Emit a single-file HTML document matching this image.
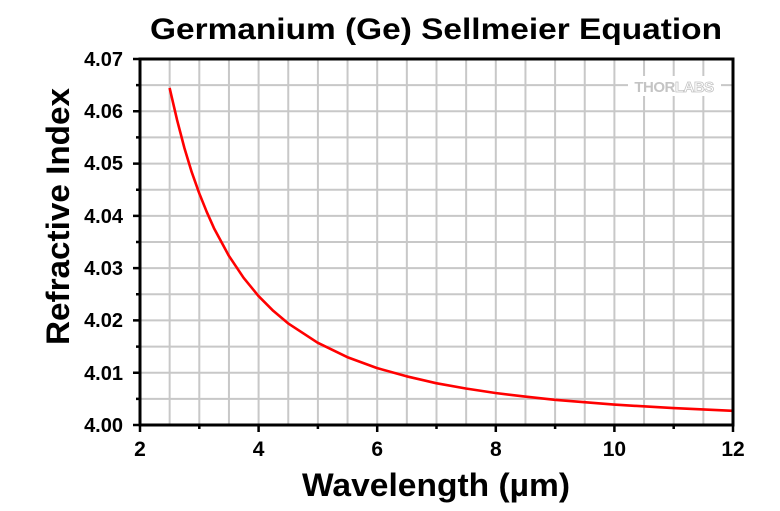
<!DOCTYPE html>
<html><head><meta charset="utf-8"><style>body{margin:0;background:#fff}svg{display:block}</style></head><body>
<svg width="780" height="511" xmlns="http://www.w3.org/2000/svg" font-family="Liberation Sans, Arial, sans-serif" font-weight="bold">
<rect width="780" height="511" fill="#fff"/>
<g stroke="#c8c8c8" stroke-width="2">
<path d="M169.65 59V425M199.3 59V425M228.95 59V425M258.6 59V425M288.25 59V425M317.9 59V425M347.55 59V425M377.2 59V425M406.85 59V425M436.5 59V425M466.15 59V425M495.8 59V425M525.45 59V425M555.1 59V425M584.75 59V425M614.4 59V425M644.05 59V425M673.7 59V425M703.35 59V425"/>
<path d="M140 85.14H733M140 111.29H733M140 137.43H733M140 163.57H733M140 189.71H733M140 215.86H733M140 242H733M140 268.14H733M140 294.29H733M140 320.43H733M140 346.57H733M140 372.71H733M140 398.86H733"/>
</g>
<rect x="628" y="76" width="93" height="20" fill="#fff"/>
<text x="674" y="92" font-size="15" fill="#c4c4c4" text-anchor="middle" letter-spacing="-0.5">THOR<tspan fill="#fff" stroke="#c4c4c4" stroke-width="0.8">LABS</tspan></text>
<polyline fill="none" stroke="#f00" stroke-width="2.6" stroke-linejoin="round" points="169.6,87.9 177.1,120.1 184.4,148 191.7,172.1 199.2,193.2 206.7,211.8 214,228.2 228.8,255.7 243.6,277.8 258.4,295.9 273.2,310.8 288,323.3 317.6,342.7 347.2,357.1 376.8,368 406.5,376.3 436.1,383.2 465.8,388.5 495.4,393 525,396.6 554.7,399.8 614,404.6 673.3,408.1 732.6,410.8"/>
<rect x="140" y="59" width="593" height="366" fill="none" stroke="#000" stroke-width="3"/>
<g stroke="#000" stroke-width="2.5">
<path d="M140 425v7M258.6 425v7M377.2 425v7M495.8 425v7M614.4 425v7M733 425v7"/>
<path d="M199.3 425v4M317.9 425v4M436.5 425v4M555.1 425v4M673.7 425v4"/>
<path d="M140 59h-7M140 111.29h-7M140 163.57h-7M140 215.86h-7M140 268.14h-7M140 320.43h-7M140 372.71h-7M140 425h-7"/>
<path d="M140 85.14h-4M140 137.43h-4M140 189.71h-4M140 242h-4M140 294.29h-4M140 346.57h-4M140 398.86h-4"/>
</g>
<g font-size="20" text-anchor="end">
<text x="123" y="66">4.07</text><text x="123" y="118">4.06</text><text x="123" y="170">4.05</text><text x="123" y="223">4.04</text><text x="123" y="275">4.03</text><text x="123" y="327">4.02</text><text x="123" y="380">4.01</text><text x="123" y="432">4.00</text>
</g>
<g font-size="21" text-anchor="middle">
<text x="140" y="456">2</text><text x="258.6" y="456">4</text><text x="377.2" y="456">6</text><text x="495.8" y="456">8</text><text x="614.4" y="456">10</text><text x="733" y="456">12</text>
</g>
<text x="150" y="39" font-size="30" textLength="572" lengthAdjust="spacingAndGlyphs">Germanium (Ge) Sellmeier Equation</text>
<text x="302" y="496" font-size="32" textLength="268" lengthAdjust="spacingAndGlyphs">Wavelength (µm)</text>
<text transform="translate(69,345) rotate(-90)" font-size="32" textLength="257" lengthAdjust="spacingAndGlyphs">Refractive Index</text>
</svg>
</body></html>
